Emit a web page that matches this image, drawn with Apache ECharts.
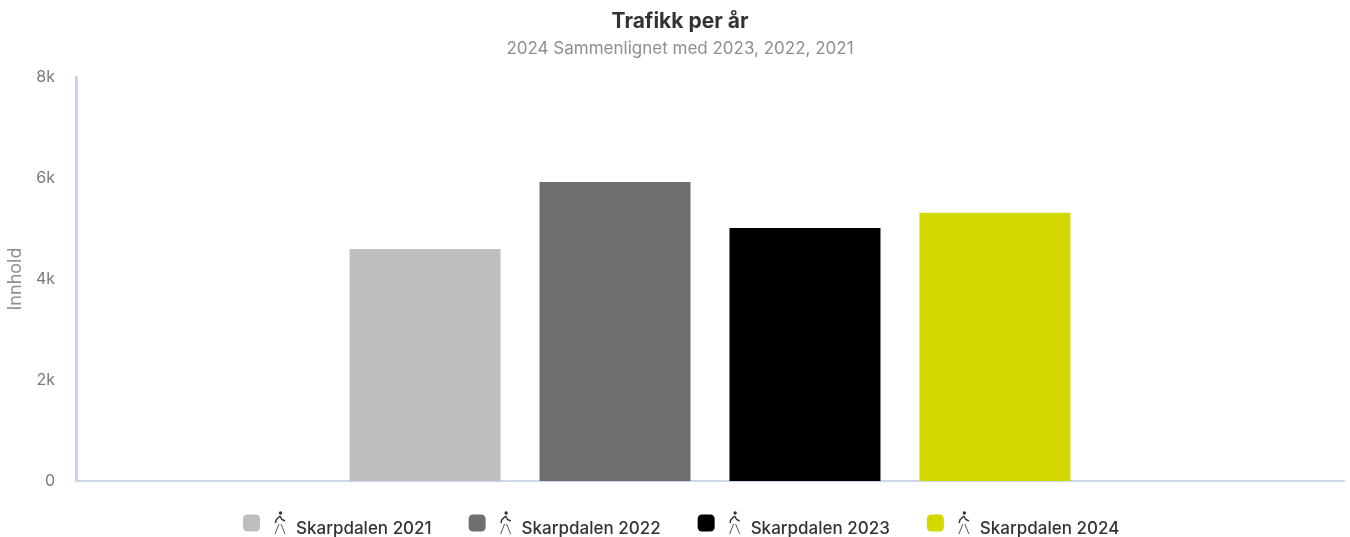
<!DOCTYPE html>
<html>
<head>
<meta charset="utf-8">
<title>Trafikk per år</title>
<script src="https://cdn.jsdelivr.net/npm/echarts@6/dist/echarts.min.js"></script>
<style>
  html,body{margin:0;padding:0;background:#fff;}
  #chart{width:1350px;height:537px;}
</style>
</head>
<body>
<div id="chart"></div>
<script>
var categories = ['2024'];
var seriesNames = ['Skarpdalen 2021','Skarpdalen 2022','Skarpdalen 2023','Skarpdalen 2024'];
var seriesValues = [4595, 5920, 5010, 5310];
var seriesColors = ['#bebebe','#6f6f6f','#000000','#d3d800'];
var yTicks = ['0','2k','4k','6k','8k'];

var fontName = 'Inter';

// lite gaaende figur til legenden
var walker = 'data:image/svg+xml;utf8,' + encodeURIComponent(
  '<svg xmlns="http://www.w3.org/2000/svg" width="14" height="24" viewBox="0 0 14 24">' +
  '<circle cx="7.5" cy="2" r="1.7" fill="#333"/>' +
  '<path d="M7 5 L3 9 L2.5 12 M7 5 L9 8.5 L12 10" fill="none" stroke="#333" stroke-width="1.5"/>' +
  '<path d="M6 13 L2 23 M8 13 L12 23" fill="none" stroke="#555" stroke-width="1"/>' +
  '</svg>');

var chart = echarts.init(document.getElementById('chart'));

var series = [];
for (var i = 0; i < seriesNames.length; i++) {
  series.push({
    name: seriesNames[i],
    type: 'bar',
    data: [seriesValues[i]],
    barWidth: 151,
    barGap: '25.8%',
    itemStyle: {color: seriesColors[i]}
  });
}

chart.setOption({
  animation: false,
  textStyle: {fontFamily: fontName},
  title: [
    {text: 'Trafikk per år', left: 675, top: 6, textAlign: 'center',
     textStyle: {fontFamily: fontName, fontSize: 21, fontWeight: 'bold', color: '#333333'}},
    {text: '2024 Sammenlignet med 2023, 2022, 2021', left: 675, top: 35, textAlign: 'center',
     textStyle: {fontFamily: fontName, fontSize: 17, fontWeight: 'normal', color: '#8f8f8f'}}
  ],
  grid: {left: 76, right: 6, top: 77, bottom: 56, outerBoundsMode: 'none'},
  legend: {
    data: seriesNames,
    left: 238,
    top: 506,
    icon: 'roundRect',
    itemWidth: 17,
    itemHeight: 17,
    itemGap: 37,
    selectedMode: false,
    formatter: function (name) {
      return '{s|}{w|}{t|' + name + '}';
    },
    textStyle: {
      rich: {
        s: {width: 8, height: 10},
        w: {width: 14, height: 24, backgroundColor: {image: walker}},
        t: {fontFamily: fontName, fontSize: 17, fontWeight: 500, color: '#333333', padding: [11, 0, 0, 9]}
      }
    }
  },
  xAxis: {
    type: 'category',
    data: categories,
    axisLine: {show: true, lineStyle: {color: '#ccd6eb', width: 2}},
    axisTick: {show: false},
    axisLabel: {show: false}
  },
  yAxis: {
    type: 'value',
    min: 0,
    max: 8000,
    interval: 2000,
    name: 'Innhold',
    nameLocation: 'middle',
    nameGap: 48,
    nameTextStyle: {fontFamily: fontName, fontSize: 18, color: '#8f8f8f'},
    axisLine: {show: true, lineStyle: {color: '#ccd6eb', width: 3}},
    axisTick: {show: false},
    splitLine: {show: false},
    axisLabel: {
      fontFamily: fontName,
      fontSize: 16,
      color: '#7a7a7a',
      margin: 21,
      padding: [2, 0, 0, 0],
      formatter: function (v) { return yTicks[v / 2000]; }
    }
  },
  series: series
});
</script>
</body>
</html>
